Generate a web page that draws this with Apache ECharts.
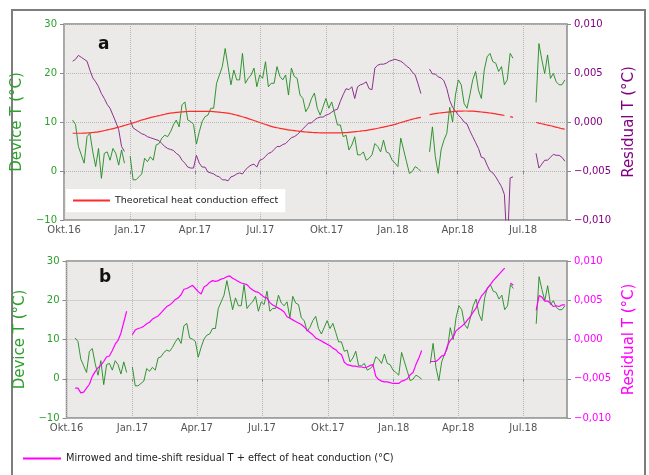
<!DOCTYPE html>
<html><head><meta charset="utf-8">
<script src="https://cdn.jsdelivr.net/npm/echarts@6/dist/echarts.min.js"></script>
<style>html,body{margin:0;padding:0;background:#fff}#c{width:649px;height:475px}</style>
</head><body><div id="c"></div>
<script>
// ---- data ----
const startDate = '2016-10-01';
const stepDays = 4;            // one sample every 4 days
const endDate = '2018-08-31';
const tickDates = ['2016-10-01','2017-01-01','2017-04-01','2017-07-01','2017-10-01','2018-01-01','2018-04-01','2018-07-01'];
const tickLabels = ['Okt.16','Jan.17','Apr.17','Jul.17','Okt.17','Jan.18','Apr.18','Jul.18'];

// Device T (°C) - green, same in both panels
const deviceT = [null,null,null,
10.4,9.5,5.0,3.3,1.6,7.0,7.7,3.9,0.9,4.6,-1.5,3.6,3.9,2.2,4.6,3.6,1.2,4.3,1.6,
null,
3.0,-1.8,-1.8,-1.2,-0.6,2.6,1.9,2.9,2.2,5.3,5.6,6.7,7.3,7.0,8.0,9.4,10.4,9.0,13.5,14.1,10.4,10.1,9.5,5.5,8.0,10.1,
11.1,11.4,12.8,12.8,17.9,19.6,21.3,25.0,21.3,17.6,20.6,18.6,18.6,24.0,17.9,18.9,19.6,21.0,17.2,19.6,18.9,22.3,17.2,17.9,
17.9,21.3,19.3,18.6,19.6,15.5,21.0,19.3,18.9,15.5,14.8,12.1,13.1,14.8,15.9,12.8,11.4,13.1,14.8,12.8,14.1,11.8,9.4,9.4,
7.0,7.3,4.3,5.3,7.0,3.3,3.3,3.9,2.2,2.6,3.3,5.6,5.0,3.9,6.3,3.9,3.6,2.2,1.6,0.9,6.7,4.3,1.9,-0.5,-0.1,0.9,0.5,-0.1,
null,null,
3.9,9.0,2.9,-0.5,4.3,6.3,7.7,13.0,10.0,15.5,18.6,17.6,13.8,12.8,15.5,18.6,20.3,16.5,14.8,20.6,23.3,24.0,22.3,22.0,
20.3,21.3,17.6,18.6,24.0,23.0,
null,null,null,null,null,null,null,
14.0,26.0,22.7,19.9,23.7,18.9,19.9,18.2,17.6,17.6,18.6];

// Residual T (0.001 °C) - purple, panel a
const residualT = [null,null,null,
6.2,6.4,6.8,6.6,6.4,6.2,5.3,4.5,4.1,3.6,2.9,2.4,1.8,1.4,0.7,0.0,-0.8,-2.5,-3.0,
null,
0.2,-0.6,-0.8,-1.0,-1.2,-1.3,-1.5,-1.6,-1.7,-1.8,-1.9,-2.2,-2.5,-2.7,-2.8,-2.9,-3.2,-3.4,-3.9,-4.2,-4.6,-4.7,-4.7,-3.4,
-4.2,-4.6,-4.6,-5.1,-5.2,-5.3,-5.5,-5.6,-5.9,-5.9,-6.0,-5.6,-5.5,-5.3,-5.2,-5.3,-4.9,-4.6,-4.4,-4.3,-4.6,-3.9,-3.8,-3.5,
-3.2,-3.1,-2.8,-2.5,-2.5,-2.3,-2.2,-1.9,-1.6,-1.5,-1.3,-1.0,-0.7,-0.4,-0.1,-0.1,0.2,0.4,0.5,0.5,0.7,0.8,1.0,1.2,1.3,
2.1,2.8,3.4,3.3,3.6,2.4,3.6,3.8,3.9,4.1,3.4,3.3,5.5,5.8,5.9,5.9,6.0,6.2,6.3,6.4,6.3,6.2,6.0,5.7,5.5,5.1,4.8,3.9,2.9,
null,null,
5.4,4.9,4.9,4.6,4.5,4.2,3.4,2.2,1.5,1.1,0.7,0.4,0.0,-0.2,-0.9,-1.5,-2.1,-2.7,-3.6,-3.7,-4.4,-5.0,-5.2,-5.6,-6.1,
-6.6,-7.4,-13.0,-5.7,-5.6,
null,null,null,null,null,null,null,
-3.2,-4.7,-4.3,-3.9,-3.9,-3.6,-3.3,-3.4,-3.4,-3.6,-4.0];

// Theoretical heat conduction effect (0.001 °C) - red, panel a
const heatConduction = [null,null,null,
-1.15,-1.15,-1.15,-1.15,-1.14,-1.12,-1.10,-1.07,-1.04,-1.00,-0.94,-0.87,-0.80,-0.74,-0.67,-0.60,-0.52,-0.44,-0.35,
-0.27,-0.18,-0.10,0.00,0.10,0.20,0.28,0.37,0.45,0.52,0.59,0.65,0.72,0.79,0.85,0.90,0.94,0.98,1.01,1.03,1.05,1.07,
1.08,1.08,1.09,1.09,1.09,1.09,1.09,1.08,1.06,1.03,1.00,0.97,0.94,0.90,0.84,0.77,0.70,0.62,0.54,0.45,0.35,0.25,0.15,
0.05,-0.05,-0.15,-0.25,-0.35,-0.45,-0.52,-0.59,-0.65,-0.70,-0.75,-0.80,-0.84,-0.88,-0.92,-0.96,-0.99,-1.02,-1.04,
-1.06,-1.08,-1.09,-1.10,-1.10,-1.10,-1.10,-1.10,-1.10,-1.10,-1.10,-1.09,-1.08,-1.06,-1.03,-1.00,-0.97,-0.93,-0.89,
-0.85,-0.80,-0.75,-0.70,-0.64,-0.58,-0.52,-0.45,-0.38,-0.32,-0.25,-0.15,-0.05,0.03,0.12,0.20,0.28,0.36,0.42,0.48,
null,null,
0.75,0.80,0.85,0.90,0.93,0.97,1.00,1.03,1.06,1.08,1.10,1.11,1.12,1.12,1.11,1.10,1.08,1.05,1.02,0.99,0.96,0.92,
0.88,0.83,0.78,0.72,0.66,null,0.55,0.48,
null,null,null,null,null,null,null,
-0.05,-0.12,-0.18,-0.25,-0.32,-0.38,-0.45,-0.53,-0.60,-0.68,-0.74];

// Mirrowed and time-shift residual T + heat conduction (0.001 °C) - magenta, panel b
const mirroredResidual = [null,null,null,
-6.2,-6.2,-6.8,-6.7,-6.2,-5.7,-4.7,-4.1,-3.6,-3.3,-2.8,-2.2,-2.1,-1.4,-0.6,-0.1,0.8,2.2,3.6,
null,
0.6,1.2,1.4,1.5,1.7,2.0,2.2,2.6,2.8,3.0,3.4,3.8,4.2,4.4,4.7,5.1,5.3,5.7,6.4,6.5,6.7,6.9,6.5,6.1,5.8,6.7,6.9,7.3,
7.5,7.4,7.5,7.7,7.8,8.0,8.1,7.8,7.6,7.4,7.2,7.1,7.0,6.6,6.3,6.1,6.0,5.7,5.4,5.3,4.7,4.4,4.2,4.0,3.8,3.5,2.9,2.7,
2.5,2.3,2.1,1.9,1.6,1.2,0.9,0.6,0.2,0.0,-0.2,-0.4,-0.6,-0.8,-1.1,-1.3,-1.7,-1.9,-2.9,-3.2,-3.3,-3.4,-3.4,-3.5,-3.5,
-3.6,-3.5,-3.3,-3.2,-4.7,-5.1,-5.3,-5.4,-5.4,-5.5,-5.6,-5.6,-5.6,-5.3,-5.2,-5.0,-4.5,-4.2,-3.2,-2.4,-1.4,
null,null,
-2.8,-2.8,-2.8,-2.5,-2.1,-2.0,-0.8,-0.1,0.3,1.1,1.4,1.7,2.0,2.5,2.9,3.5,4.0,4.9,5.6,6.0,6.5,7.0,7.5,7.9,8.3,8.7,9.1,
null,7.2,6.9,
null,null,null,null,null,null,null,
3.7,5.6,5.4,4.9,4.9,4.6,4.2,4.3,4.2,4.4,4.4];

const nameDevice = 'Device T (°C)';
const nameResidual = 'Residual T (°C)';
const nameHeat = 'Theoretical heat conduction effect';
const nameMirror = 'Mirrowed and time-shift residual T + effect of heat conduction (°C)';

// ---- build ----
const DAY = 86400000;
const t0 = Date.parse(startDate + 'T00:00:00Z');
const dayOf = s => Math.round((Date.parse(s + 'T00:00:00Z') - t0) / DAY);
const tickDays = tickDates.map(dayOf);
const toPairs = arr => arr.map((v, i) => [i * stepDays, v]);

const FONT = 'DejaVu Sans';
const frame = '#8a8a8a';
const cGreenTxt = '#2ca02c', cGreen = '#1f8b1f', cPurpleTxt = '#800080', cPurple = '#8e2f8e',
      cRed = '#ff2a2a', cMag = '#ff00ff';

function fmtT(v){ return (v < 0 ? '\u2212' : '') + Math.abs(v); }
function fmtR(v){ return (v < 0 ? '\u2212' : '') + (Math.abs(v) / 1000).toFixed(3).replace('.', ','); }
function fmtX(v){ const k = tickDays.findIndex(d => Math.abs(d - v) < 0.5); return k < 0 ? '' : tickLabels[k]; }

function xAx(g){
  return {type:'value', gridIndex:g, min:0, max:dayOf(endDate),
    axisLine:{show:false},
    axisTick:{show:true, customValues:tickDays, length:3, lineStyle:{color:frame}},
    axisLabel:{customValues:tickDays, formatter:fmtX, color:'#555', fontSize:10, fontFamily:FONT, margin:5},
    splitLine:{show:true, lineStyle:{type:'dotted', color:'#b5b5b5', width:1}}};
}
function yLeft(g, gap){
  return {type:'value', gridIndex:g, position:'left', min:-10, max:30, interval:10,
    name:nameDevice, nameLocation:'middle', nameRotate:90, nameGap:gap,
    nameTextStyle:{color:cGreenTxt, fontSize:15, fontFamily:FONT},
    axisLine:{show:false}, axisTick:{show:true, length:4, lineStyle:{color:frame}},
    axisLabel:{formatter:fmtT, color:cGreenTxt, fontSize:10, fontFamily:FONT, margin:7},
    splitLine:{show:true, lineStyle:{type:'dotted', color:'#b5b5b5', width:1}}};
}
function yRight(g, col, gap){
  return {type:'value', gridIndex:g, position:'right', min:-10, max:10, interval:5,
    name:nameResidual, nameLocation:'middle', nameRotate:90, nameGap:gap,
    nameTextStyle:{color:col, fontSize:15, fontFamily:FONT},
    axisLine:{show:false}, axisTick:{show:true, length:4, lineStyle:{color:frame}},
    axisLabel:{formatter:fmtR, color:col, fontSize:10, fontFamily:FONT, margin:7},
    splitLine:{show:false}};
}

const option = {
  animation:false,
  backgroundColor:'#fff',
  textStyle:{fontFamily:FONT},
  grid:[
    {left:64, top:24, width:503, height:196, show:true, backgroundColor:'#ebeae8', borderColor:frame, borderWidth:1.5},
    {left:66.5, top:261, width:500.5, height:157, show:true, backgroundColor:'#ebeae8', borderColor:frame, borderWidth:1.5}
  ],
  xAxis:[xAx(0), xAx(1)],
  yAxis:[yLeft(0, 30), yRight(0, cPurpleTxt, 52), yLeft(1, 32), yRight(1, cMag, 47)],
  legend:[
    {data:[nameHeat], left:66, top:189, padding:[6,7,6,6], backgroundColor:'#fff', itemWidth:37, itemHeight:14,
     itemStyle:{opacity:0}, selectedMode:false, textStyle:{fontSize:9.5, color:'#222', fontFamily:FONT}},
    {data:[nameMirror], left:17, top:448, padding:5, itemWidth:38, itemHeight:14,
     itemStyle:{opacity:0}, selectedMode:false, textStyle:{fontSize:9.8, color:'#222', fontFamily:FONT}}
  ],
  graphic:[
    {type:'rect', silent:true, z:-10, shape:{x:12, y:10, width:633, height:480},
     style:{fill:'none', stroke:'#7d7d7d', lineWidth:2}},
    {type:'text', silent:true, x:98, y:45, style:{text:'a', font:'bold 17px "DejaVu Sans"', fill:'#111', verticalAlign:'middle'}},
    {type:'text', silent:true, x:99, y:278, style:{text:'b', font:'bold 17px "DejaVu Sans"', fill:'#111', verticalAlign:'middle'}}
  ],
  series:[
    {name:nameDevice, type:'line', xAxisIndex:0, yAxisIndex:0, data:toPairs(deviceT), symbol:'none',
     lineStyle:{color:cGreen, width:1, opacity:0.9}, itemStyle:{color:cGreen}, z:2},
    {name:nameResidual, type:'line', xAxisIndex:0, yAxisIndex:1, data:toPairs(residualT), symbol:'none',
     lineStyle:{color:cPurple, width:1}, itemStyle:{color:cPurple}, z:3},
    {name:nameHeat, type:'line', xAxisIndex:0, yAxisIndex:1, data:toPairs(heatConduction), symbol:'none', smooth:true,
     lineStyle:{color:cRed, width:1.2}, itemStyle:{color:cRed}, z:4},
    {name:nameDevice + ' b', type:'line', xAxisIndex:1, yAxisIndex:2, data:toPairs(deviceT), symbol:'none',
     lineStyle:{color:cGreen, width:1, opacity:0.9}, itemStyle:{color:cGreen}, z:2},
    {name:nameMirror, type:'line', xAxisIndex:1, yAxisIndex:3, data:toPairs(mirroredResidual), symbol:'none',
     lineStyle:{color:cMag, width:1.2}, itemStyle:{color:cMag}, z:3}
  ]
};
const chart = echarts.init(document.getElementById('c'), null, {renderer:'canvas'});
chart.setOption(option);
</script>
</body></html>
